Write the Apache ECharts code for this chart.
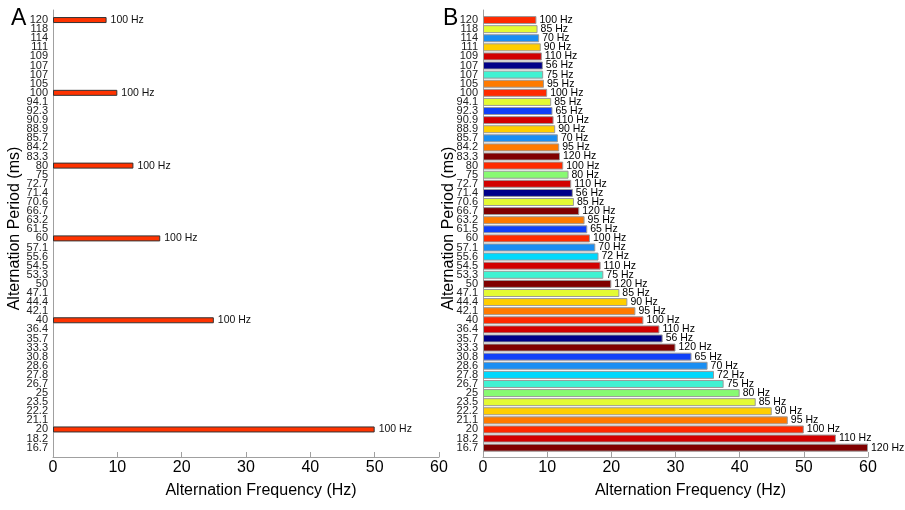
<!DOCTYPE html>
<html>
<head>
<meta charset="utf-8">
<script src="https://cdn.jsdelivr.net/npm/echarts@6/dist/echarts.min.js"></script>
<style>html,body{margin:0;padding:0;background:#fff}#c{width:905px;height:510px}</style>
</head>
<body>
<div id="c"></div>
<script>
// Alternation periods (ms), top to bottom
var periods = ['120','118','114','111','109','107','107','105','100','94.1','92.3','90.9','88.9','85.7','84.2','83.3','80','75','72.7','71.4','70.6','66.7','63.2','61.5','60','57.1','55.6','54.5','53.3','50','47.1','44.4','42.1','40','36.4','35.7','33.3','30.8','28.6','27.8','26.7','25','23.5','22.2','21.1','20','18.2','16.7'];
// Panel A: alternation frequency (Hz), only 100 Hz monitor
var freqA = [8.33,null,null,null,null,null,null,null,10,null,null,null,null,null,null,null,12.5,null,null,null,null,null,null,null,16.67,null,null,null,null,null,null,null,null,25,null,null,null,null,null,null,null,null,null,null,null,50,null,null];
var rateA = 100;
// Panel B: alternation frequency (Hz) and monitor refresh rate (Hz)
var freqB = [8.33,8.5,8.75,9,9.17,9.33,9.375,9.5,10,10.625,10.83,11,11.25,11.67,11.875,12,12.5,13.33,13.75,14,14.17,15,15.83,16.25,16.67,17.5,18,18.33,18.75,20,21.25,22.5,23.75,25,27.5,28,30,32.5,35,36,37.5,40,42.5,45,47.5,50,55,60];
var rateB = [100,85,70,90,110,56,75,95,100,85,65,110,90,70,95,120,100,80,110,56,85,120,95,65,100,70,72,110,75,120,85,90,95,100,110,56,120,65,70,72,75,80,85,90,95,100,110,120];
var xTicks = [0,10,20,30,40,50,60];

var rateColors = {56:'#000088',65:'#1040F8',70:'#1A8EF2',72:'#00D8FC',75:'#40F2D2',80:'#88FA72',85:'#E4FA34',90:'#FFCE00',95:'#FF7A00',100:'#FF2A00',110:'#D20000',120:'#800000'};

var FONT = 'Liberation Sans, Arial, sans-serif';
var NARROW = 'Liberation Sans Narrow, Arial Narrow, Liberation Sans, sans-serif';
var chart = echarts.init(document.getElementById('c'));

function outerX(gi){
  return {gridIndex:gi,type:'value',min:0,max:60,interval:10,
    name:'Alternation Frequency (Hz)',nameLocation:'middle',nameGap:26,
    nameTextStyle:{fontFamily:FONT,fontSize:16,color:'#000',padding:[0,0,0,30]},
    axisLine:{show:true,lineStyle:{color:'#a0a0a0',width:1}},
    axisTick:{show:true,inside:true,length:5,lineStyle:{color:'#a0a0a0'}},
    axisLabel:{fontFamily:NARROW,fontSize:16,color:'#000',margin:3,
      formatter:function(v){return xTicks.indexOf(v)>=0?String(v):'';}},
    splitLine:{show:false}};
}
function innerX(gi){return {gridIndex:gi,type:'value',min:0,max:60,show:false};}
function outerY(gi,gap){
  return {gridIndex:gi,type:'value',min:0,max:1,
    name:'Alternation Period (ms)',nameLocation:'middle',nameGap:gap,
    nameTextStyle:{fontFamily:FONT,fontSize:16,color:'#000',padding:[0,0,0,10]},
    axisLine:{show:true,lineStyle:{color:'#a0a0a0',width:1}},
    axisTick:{show:false},axisLabel:{show:false},splitLine:{show:false}};
}
function innerY(gi){
  return {gridIndex:gi,type:'category',inverse:true,data:periods,
    axisLine:{show:false},axisTick:{show:false},
    axisLabel:{interval:0,fontFamily:NARROW,fontSize:11,color:'#222',margin:5}};
}

var option = {
  backgroundColor:'#fff',
  animation:false,
  title:[
    {text:'A',left:6,top:2,textStyle:{fontFamily:FONT,fontSize:23,fontWeight:'normal',color:'#000'}},
    {text:'B',left:438,top:2,textStyle:{fontFamily:FONT,fontSize:23,fontWeight:'normal',color:'#000'}}
  ],
  grid:[
    {left:53,right:466,top:10,bottom:53},
    {left:53,right:466,top:15.5,bottom:57.8},
    {left:483,right:37,top:10,bottom:53},
    {left:483,right:37,top:15.5,bottom:57.8}
  ],
  xAxis:[outerX(0),innerX(1),outerX(2),innerX(3)],
  yAxis:[outerY(0,30),innerY(1),outerY(2,26),innerY(3)],
  series:[
    {type:'bar',xAxisIndex:1,yAxisIndex:1,data:freqA,barWidth:6,
      itemStyle:{color:'#FF3300',borderColor:'#333',borderWidth:1},
      label:{show:true,position:'right',distance:4,fontFamily:NARROW,fontSize:10.5,color:'#111',
        formatter:function(){return rateA+' Hz';}}},
    {type:'bar',xAxisIndex:3,yAxisIndex:3,barWidth:8,
      data:freqB.map(function(v,i){return {value:v,itemStyle:{color:rateColors[rateB[i]]}};}),
      itemStyle:{borderColor:'#9a9a9a',borderWidth:1},
      label:{show:true,position:'right',distance:3,fontFamily:NARROW,fontSize:10.5,color:'#000',
        formatter:function(p){return rateB[p.dataIndex]+' Hz';}}}
  ]
};
chart.setOption(option);
</script>
</body>
</html>
